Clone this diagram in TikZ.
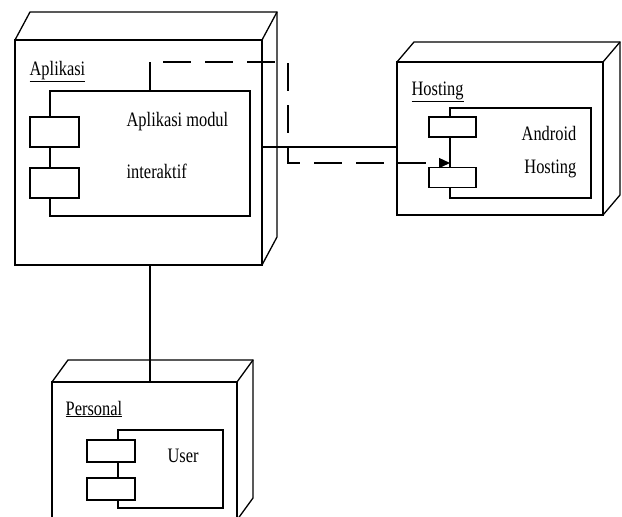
\documentclass[tikz,border=0pt]{standalone}
\usepackage{fontspec}
\setmainfont{Liberation Serif}[FakeStretch=0.8]
\usetikzlibrary{arrows.meta}

\begin{document}
\begin{tikzpicture}[x=1pt,y=-1pt,line width=1.3pt,
    box/.style={draw,anchor=north west,inner sep=0pt,outer sep=0pt},
    port/.style={draw,fill=white,inner sep=0pt,outer sep=0pt},
    lbl/.style={anchor=base west,inner sep=0pt,font=\fontsize{20.5}{22}\selectfont},
    dep/.style={dash pattern=on 28pt off 14pt,-{Triangle[length=11pt,width=10pt]}}]
  \useasboundingbox (0,0) rectangle (622,517);

  % Aplikasi
  \node[box,minimum width=247pt,minimum height=225pt] (aplikasi) at (15,40) {};
  \draw (aplikasi.north west) -- ++(15,-28) -- ++(247,0) -- ++(0,225) -- (aplikasi.south east);
  \draw (aplikasi.north east) -- ++(15,-28);
  \node[lbl] (aplikasilbl) at (29,75) {\underline{Aplikasi}};
  \node[box,minimum width=200pt,minimum height=125pt] (modul) at (50,91) {};
  \node[port,minimum width=49pt,minimum height=30pt] (modulp1) at (54.5,132) {};
  \node[port,minimum width=49pt,minimum height=30pt] (modulp2) at (54.5,183) {};
  \node[lbl] (modultxta) at (126,126) {Aplikasi modul};
  \node[lbl] (modultxtb) at (126,178) {interaktif};

  % Hosting
  \node[box,minimum width=206pt,minimum height=153pt] (hosting) at (397,62) {};
  \draw (hosting.north west) -- ++(17,-20) -- ++(206,0) -- ++(0,153) -- (hosting.south east);
  \draw (hosting.north east) -- ++(17,-20);
  \node[lbl] (hostinglbl) at (411,95) {\underline{Hosting}};
  \node[box,minimum width=141pt,minimum height=90pt] (android) at (450,108) {};
  \node[port,minimum width=47pt,minimum height=20pt] (androidp1) at (452.5,127) {};
  \node[port,minimum width=47pt,minimum height=20pt] (androidp2) at (452.5,177.5) {};
  \node[lbl,anchor=base east] (androidtxta) at (577,140) {Android};
  \node[lbl,anchor=base east] (androidtxtb) at (577,173) {Hosting};

  % Personal
  \node[box,minimum width=185pt,minimum height=138pt] (personal) at (52,382) {};
  \draw (personal.north west) -- ++(16,-22) -- ++(185,0) -- ++(0,138) -- (personal.south east);
  \draw (personal.north east) -- ++(16,-22);
  \node[lbl] (personallbl) at (65,415) {\underline{Personal}};
  \node[box,minimum width=105pt,minimum height=78pt] (user) at (118,430) {};
  \node[port,minimum width=48pt,minimum height=22pt] (userp1) at (111,451) {};
  \node[port,minimum width=48pt,minimum height=22pt] (userp2) at (111,489) {};
  \node[lbl] (usertxt) at (167,462) {User};

  % links
  \draw (aplikasi.east |- 0,147) -- (hosting.west |- 0,147);
  \draw (modul.north |- aplikasi.south) -- (modul.north |- personal.north);
  \draw (modul.north) -- ++(0,-29) coordinate (modultop);
  \draw[dep] ([xshift=13pt]modultop) -- (288,62) -- (288,163) -- (android.west |- 0,163);
\end{tikzpicture}
\end{document}
